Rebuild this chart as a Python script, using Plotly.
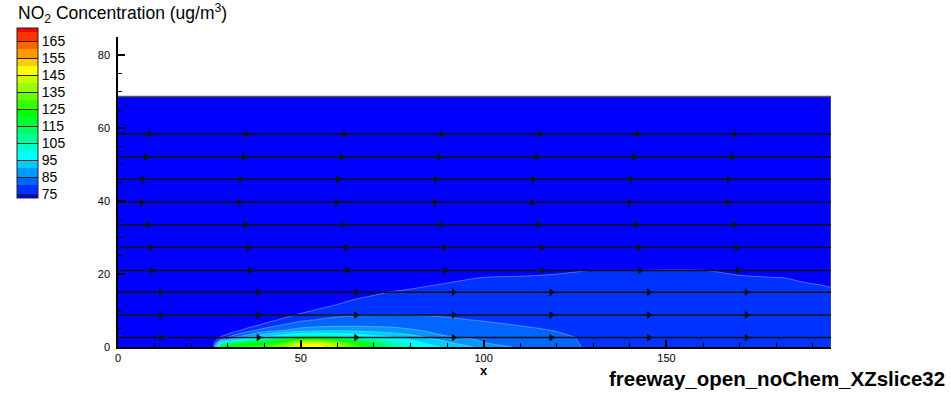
import numpy as np
import plotly.graph_objects as go

# ---- XZ slice grid (m) ----
x_stations = [0, 26, 28, 32, 36, 40, 45, 50, 55, 60, 65, 70, 75, 80, 90, 100,
              110, 120, 125, 130, 140, 160, 170, 180, 188, 195]
z_levels = [0, 1, 2, 3, 4.5, 6, 7.5, 9, 11, 13, 15, 17, 19, 21, 23, 68.7]

# ---- NO2 concentration (ug/m3): one vertical profile per x station ----
no2_profiles = [
    [70, 70, 70, 70, 70, 70, 70, 70, 70, 70, 70, 70, 70, 70, 70, 70],            # x=0
    [70, 70, 70, 70, 70, 70, 70, 70, 70, 70, 70, 70, 70, 70, 70, 70],            # x=26
    [118, 101, 80, 74, 70.3, 70, 70, 70, 70, 70, 70, 70, 70, 70, 70, 70],       # x=28
    [125, 115, 93.3, 82.1, 73.3, 70, 70, 70, 70, 70, 70, 70, 70, 70, 70, 70],   # x=32
    [127, 120, 104, 88, 78.6, 72.5, 70, 70, 70, 70, 70, 70, 70, 70, 70, 70],    # x=36
    [128, 122, 110, 93.8, 82.7, 76.4, 72, 70, 70, 70, 70, 70, 70, 70, 70, 70],  # x=40
    [135, 130, 117, 100, 85, 80.3, 75.9, 72, 70, 70, 70, 70, 70, 70, 70, 70],   # x=45
    [147, 143, 128, 105, 87.5, 82.4, 78.9, 75.5, 70.5, 70, 70, 70, 70, 70, 70, 70],   # x=50
    [148, 144, 128, 105, 88.9, 83.3, 80.2, 77.7, 74, 70, 70, 70, 70, 70, 70, 70],     # x=55
    [140, 136, 122, 103, 89.4, 83.8, 81.1, 78.8, 76.3, 72.5, 70, 70, 70, 70, 70, 70], # x=60
    [128, 124, 112, 100, 89, 83.9, 81.6, 79.5, 77.4, 75.3, 70.8, 70, 70, 70, 70, 70], # x=65
    [120, 115, 105, 96.7, 88.2, 83.9, 81.7, 79.7, 78.1, 76.4, 74, 70, 70, 70, 70, 70],  # x=70
    [108, 105, 100, 94, 87.1, 83.7, 81.7, 79.9, 78.4, 76.9, 75.4, 71.5, 70, 70, 70, 70], # x=75
    [101, 98.2, 95.5, 91.4, 85.7, 83.4, 81.5, 79.8, 78.5, 77.2, 76, 73.8, 70, 70, 70, 70],  # x=80
    [94, 91.3, 88.3, 85, 83.5, 81.9, 80.4, 79.5, 78.5, 77.6, 76.6, 75.6, 73.3, 70, 70, 70], # x=90
    [88.5, 85.2, 84.1, 83.3, 82, 80.7, 79.7, 79.1, 78.3, 77.6, 76.8, 76, 75.2, 71.3, 70, 70],  # x=100
    [84, 83.3, 82.6, 81.9, 80.8, 79.9, 79.4, 78.9, 78.2, 77.5, 76.8, 76.1, 75.4, 73.3, 70, 70], # x=110
    [81.5, 81.1, 80.8, 80.4, 79.9, 79.4, 79, 78.5, 77.9, 77.3, 76.7, 76.1, 75.5, 74.5, 70, 70], # x=120
    [80.8, 80.5, 80.2, 79.9, 79.5, 79.1, 78.7, 78.3, 77.8, 77.3, 76.7, 76.2, 75.7, 74.8, 70, 70], # x=125
    [78.5, 78.3, 78.2, 78, 77.8, 77.5, 77.3, 77, 76.7, 76.3, 76, 75.7, 75.3, 75.05, 70, 70],   # x=130
    [77.5, 77.4, 77.3, 77.2, 77, 76.8, 76.6, 76.4, 76.2, 75.9, 75.7, 75.5, 75.3, 75.05, 70, 70], # x=140
    [77, 76.9, 76.8, 76.7, 76.6, 76.4, 76.3, 76.1, 75.9, 75.7, 75.5, 75.3, 75.2, 75.05, 70, 70], # x=160
    [76.7, 76.6, 76.5, 76.4, 76.3, 76.2, 76, 75.9, 75.7, 75.6, 75.4, 75.3, 75.2, 74.6, 70, 70],  # x=170
    [76.4, 76.3, 76.3, 76.2, 76.1, 76, 75.9, 75.8, 75.6, 75.5, 75.3, 75.2, 75.1, 72.5, 70, 70],  # x=180
    [76.2, 76.1, 76.1, 76, 75.9, 75.8, 75.7, 75.6, 75.5, 75.4, 75.3, 75.15, 74.7, 70, 70, 70],   # x=188
    [76, 75.95, 75.9, 75.85, 75.8, 75.7, 75.6, 75.5, 75.4, 75.3, 75.2, 74.9, 70, 70, 70, 70],    # x=195
]

# ---- contour levels / legend ticks ----
level_start, level_end, level_step = 75, 170, 5
legend_ticks = [75, 85, 95, 105, 115, 125, 135, 145, 155, 165]

# ---- streamlines (heights in m) and arrowhead phase along each line ----
streamline_z = [2.6, 8.8, 15.0, 21.0, 27.3, 33.5, 39.7, 46.0, 52.1, 58.4]
arrow_x0 = [11.7, 11.7, 11.7, 9.3, 9.0, 8.2, 6.5, 6.8, 7.7, 8.5]
arrow_step = 26.7
arrow_count = 7

# ---- domain extent ----
domain_x = [0, 195]
domain_z_top = 68.7

FONT = "Arial, Liberation Sans, sans-serif"

conc = np.array(no2_profiles).T  # rows = z, cols = x

# Tecplot-style rainbow: blue -> cyan -> green -> yellow -> red
rainbow = [[0.0, "rgb(0,0,255)"], [0.25, "rgb(0,255,255)"],
           [0.5, "rgb(0,255,0)"], [0.75, "rgb(255,255,0)"],
           [1.0, "rgb(255,0,0)"]]

CB_X = -0.1417
CB_TOP_PX = 28.3       # top of legend bar, px from top of page
PX_PER_UNIT = 1.7      # legend bar scale

fig = go.Figure()

fig.add_trace(go.Contour(
    x=x_stations, y=z_levels, z=conc,
    colorscale=rainbow,
    autocontour=False,
    contours=dict(start=level_start, end=level_end, size=level_step,
                  coloring="fill", showlines=False),
    line=dict(width=0, smoothing=0.9),
    colorbar=dict(
        x=CB_X, xanchor="left", xpad=0,
        y=1 + (37 - CB_TOP_PX) / 310, yanchor="top", ypad=0,
        lenmode="pixels", len=100 * PX_PER_UNIT, thickness=21,
        tickmode="array", tickvals=legend_ticks,
        ticks="", ticklabelposition="outside",
        tickfont=dict(family=FONT, size=14, color="black"),
        outlinewidth=1, outlinecolor="#222",
    ),
    hoverinfo="skip",
))

# legend separators at the labelled levels (scale-only trace, no data in view)
sep_top_px = CB_TOP_PX + (level_end + level_step / 2 - legend_ticks[-1]) * PX_PER_UNIT
fig.add_trace(go.Contour(
    x=[-10, -9], y=[-10, -9], z=[[0, 0], [0, 0]],
    colorscale=[[0, "#222"], [1, "#222"]],
    autocontour=False,
    contours=dict(start=legend_ticks[0], end=legend_ticks[-1], size=10,
                  coloring="lines"),
    line=dict(width=1),
    colorbar=dict(
        x=CB_X, xanchor="left", xpad=0,
        y=1 + (37 - sep_top_px) / 310, yanchor="top", ypad=0,
        lenmode="pixels", len=(legend_ticks[-1] - legend_ticks[0]) * PX_PER_UNIT,
        thickness=21, showticklabels=False, ticks="",
        outlinewidth=0,
    ),
    hoverinfo="skip",
))

# faint cell-edge lines along the outer plume bands
fig.add_trace(go.Contour(
    x=x_stations, y=z_levels, z=conc,
    autocontour=False,
    contours=dict(start=75, end=90, size=5, coloring="none", showlines=True),
    line=dict(width=0.8, color="rgba(205,215,255,0.5)", smoothing=0.9),
    showscale=False, hoverinfo="skip",
))

# domain boundary (top and outflow edges)
fig.add_trace(go.Scatter(
    x=[domain_x[0], domain_x[1], domain_x[1]],
    y=[domain_z_top, domain_z_top, 0],
    mode="lines", line=dict(color="#555", width=1.5),
    showlegend=False, hoverinfo="skip",
))

# streamlines with arrowheads
for zs, x0 in zip(streamline_z, arrow_x0):
    fig.add_trace(go.Scatter(
        x=domain_x, y=[zs, zs], mode="lines",
        line=dict(color="#111", width=1.5),
        showlegend=False, hoverinfo="skip",
    ))
    ax = x0 + arrow_step * np.arange(arrow_count)
    fig.add_trace(go.Scatter(
        x=ax, y=np.full(len(ax), zs), mode="markers",
        marker=dict(symbol="triangle-right", size=7, color="#111"),
        showlegend=False, hoverinfo="skip",
    ))

fig.update_xaxes(
    range=[0, 195], showline=True, linecolor="black", linewidth=2,
    ticks="inside", ticklen=7, tickwidth=1.5, tickcolor="black",
    tick0=0, dtick=50,
    minor=dict(ticks="inside", ticklen=4, tickwidth=1, tickcolor="black", dtick=10),
    showgrid=False, zeroline=False,
    tickfont=dict(family=FONT, size=11, color="black"),
)
fig.update_yaxes(
    range=[0, 85.02], showline=True, linecolor="black", linewidth=1.5,
    ticks="inside", ticklen=7, tickwidth=1.5, tickcolor="black",
    tick0=0, dtick=20,
    minor=dict(ticks="inside", ticklen=4, tickwidth=1, tickcolor="black", dtick=5),
    showgrid=False, zeroline=False,
    tickfont=dict(family=FONT, size=11, color="black"),
    ticklabelstandoff=4,
)

fig.update_layout(
    width=951, height=393,
    margin=dict(l=118, r=120, t=37, b=46),
    paper_bgcolor="white", plot_bgcolor="white",
    showlegend=False,
    font=dict(family=FONT, color="black"),
    annotations=[
        dict(text="NO<sub>2</sub> Concentration (ug/m<sup>3</sup>)",
             xref="paper", yref="paper", x=-0.1431, y=1.076,
             xanchor="left", yanchor="middle", showarrow=False,
             font=dict(family=FONT, size=17.5, color="black")),
        dict(text="x", xref="x", yref="paper", x=100, y=-0.077,
             xanchor="center", yanchor="middle", showarrow=False,
             font=dict(family=FONT, size=13, color="black", weight="bold")),
        dict(text="freeway_open_noChem_XZslice32", xref="paper", yref="paper",
             x=1.162, y=-0.103, xanchor="right", yanchor="middle",
             showarrow=False,
             font=dict(family=FONT, size=20.5, color="black", weight="bold")),
    ],
)

fig.write_html("out.html")
